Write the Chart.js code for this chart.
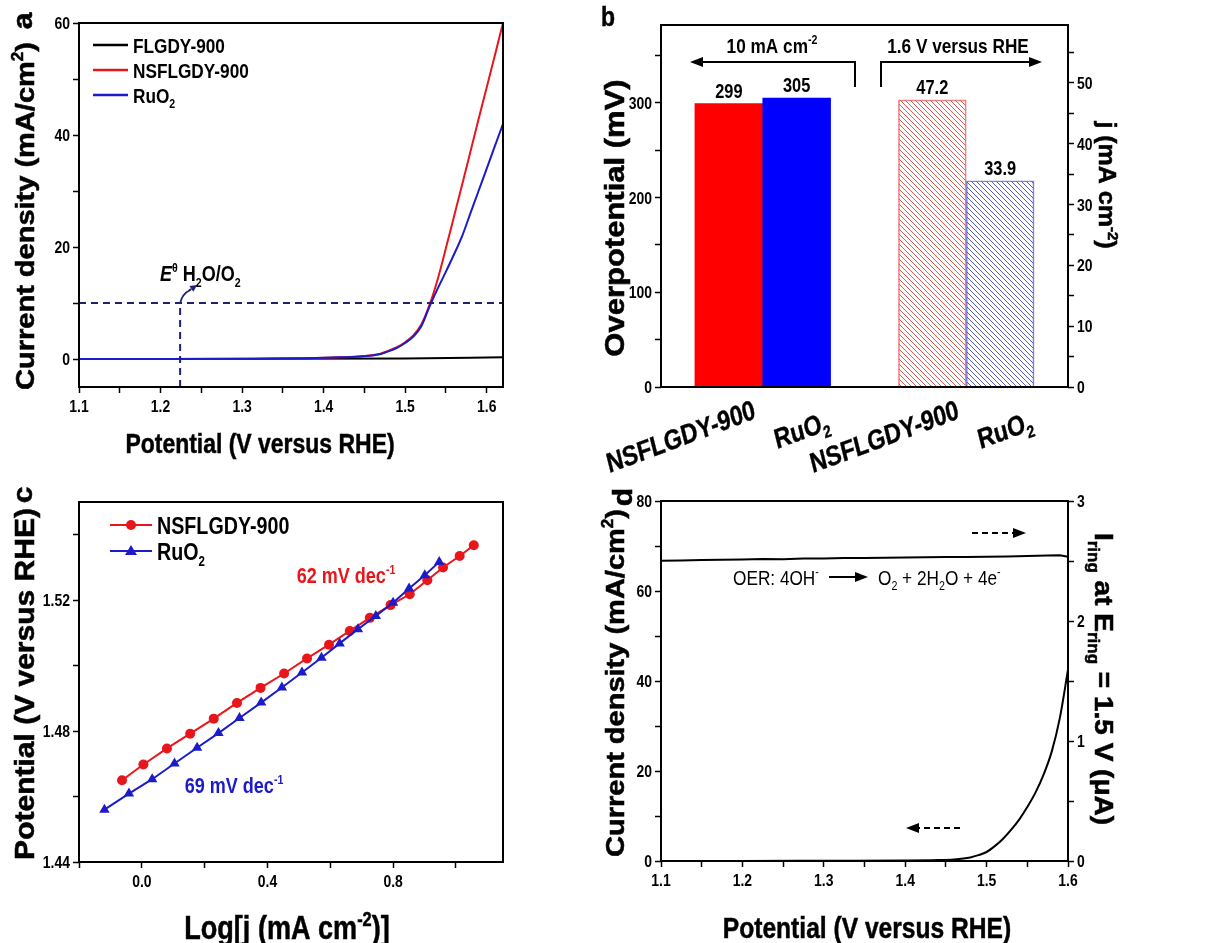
<!DOCTYPE html>
<html>
<head>
<meta charset="utf-8">
<script src="https://cdn.jsdelivr.net/npm/chart.js@4.4.1/dist/chart.umd.min.js"></script>
<style>
  html, body { margin: 0; padding: 0; background: #fff; }
  #wrap { position: relative; width: 1225px; height: 943px; overflow: hidden; }
  canvas { position: absolute; left: 0; top: 0; }
</style>
</head>
<body>
<div id="wrap">
  <canvas id="chartA" width="1225" height="943"></canvas>
  <canvas id="chartB" width="1225" height="943"></canvas>
  <canvas id="chartC" width="1225" height="943"></canvas>
  <canvas id="chartD" width="1225" height="943"></canvas>
</div>
<script>
// ---------- data ----------
// (a) LSV curves
const lsvPotential = [1.10, 1.20, 1.30, 1.38, 1.42, 1.45, 1.47, 1.48, 1.49, 1.50, 1.51, 1.52, 1.53, 1.54, 1.55, 1.56, 1.57, 1.58, 1.59, 1.60, 1.61, 1.62];
const lsvNSFLGDY = [0, 0.01, 0.05, 0.15, 0.3, 0.55, 0.95, 1.5, 2.1, 3.0, 4.2, 6.2, 9.7, 14.3, 19.8, 25.5, 31.2, 37.0, 42.8, 48.5, 54.2, 60.0];
const lsvRuO2 = [0, 0.01, 0.05, 0.15, 0.3, 0.5, 0.9, 1.4, 2.0, 2.85, 4.0, 5.9, 9.4, 12.6, 15.6, 18.7, 22.0, 26.0, 30.0, 34.0, 38.0, 42.0];
const lsvFLPotential = [1.10, 1.30, 1.50, 1.62];
const lsvFLGDY = [0, 0.02, 0.1, 0.3];
const refCurrent = 10;      // mA/cm2
const eqPotential = 1.224;  // E0 H2O/O2
const axisA = { xMin: 1.1, xMax: 1.62, yMin: -5, yMax: 60 };

// (b) bars
const barGroup = ['NSFLGDY-900', 'RuO_{2}'];
const overpotential = [299, 305];   // mV at 10 mA cm-2
const currentAt16V = [47.2, 33.9];  // mA cm-2 at 1.6 V

// (c) Tafel plots
const tafelLogJ_NS = [-0.063, 0.005, 0.080, 0.154, 0.229, 0.303, 0.378, 0.453, 0.526, 0.596, 0.662, 0.726, 0.792, 0.853, 0.909, 0.959, 1.012, 1.057];
const tafelE_NS = [1.465, 1.4698, 1.4747, 1.4792, 1.4838, 1.4886, 1.4932, 1.4976, 1.5022, 1.5064, 1.5106, 1.5146, 1.5185, 1.5218, 1.5261, 1.530, 1.5335, 1.5368];
const tafelLogJ_Ru = [-0.119, -0.041, 0.033, 0.104, 0.176, 0.244, 0.311, 0.380, 0.446, 0.510, 0.572, 0.630, 0.688, 0.745, 0.800, 0.851, 0.901, 0.947];
const tafelE_Ru = [1.456, 1.4609, 1.4653, 1.4701, 1.4749, 1.4794, 1.484, 1.4887, 1.4933, 1.4979, 1.5024, 1.5068, 1.5111, 1.5152, 1.5192, 1.5236, 1.5276, 1.5317];

// (d) RRDE
const rrdePotential = [1.10, 1.20, 1.30, 1.40, 1.44, 1.46, 1.48, 1.49, 1.50, 1.51, 1.52, 1.53, 1.54, 1.55, 1.56, 1.57, 1.58, 1.59, 1.60];
const diskCurrent = [0, 0.02, 0.05, 0.1, 0.2, 0.35, 0.8, 1.3, 2.0, 3.3, 4.9, 6.9, 9.2, 12.0, 15.2, 19.2, 24.3, 31.8, 42.5];
const ringPotential = [1.100, 1.125, 1.150, 1.175, 1.200, 1.225, 1.250, 1.275, 1.300, 1.325, 1.350, 1.375, 1.400, 1.425, 1.450, 1.475, 1.500, 1.525, 1.550, 1.575, 1.590, 1.600];
const ringCurrent = [2.502, 2.504, 2.508, 2.510, 2.512, 2.517, 2.514, 2.520, 2.521, 2.524, 2.526, 2.527, 2.530, 2.531, 2.533, 2.533, 2.536, 2.538, 2.541, 2.545, 2.548, 2.536];

// ---------- styles ----------
const FONT = "'Liberation Sans', Arial, sans-serif";
const SX = 0.82;   // the figure text is squeezed horizontally
const TICK = 17;
const RED = '#e8161b', BLUE = '#1b1bc8', NAVY = '#1f2270';
const VERT = -Math.PI / 2;
const TITLE_V = { rot: VERT, middle: true, sx: 0.92, stroke: 0.6 };

Chart.defaults.animation = false;
Chart.defaults.color = '#000';

const pts = (xs, ys) => xs.map((x, i) => ({ x, y: ys[i] }));
const onStep = (v, s) => Math.abs(v / s - Math.round(v / s)) < 1e-6;

function linAxis(pos, min, max, step, size) {
  return {
    type: 'linear', position: pos, min, max,
    border: { display: false },
    grid: { drawOnChartArea: false, drawTicks: true, tickLength: 6, tickWidth: 1.5, tickColor: '#000' },
    ticks: { stepSize: step, includeBounds: false, autoSkip: false, display: false },
    afterFit: s => { if (s.isHorizontal()) s.height = size; else s.width = size; }
  };
}

// small rich-text helper: ^{sup} _{sub} *{italic}
function parseRich(s) {
  const out = [];
  const re = /([\^_*])\{([^}]*)\}/g;
  let last = 0, m;
  while ((m = re.exec(s))) {
    if (m.index > last) out.push([s.slice(last, m.index), '']);
    out.push([m[2], m[1]]);
    last = re.lastIndex;
  }
  if (last < s.length) out.push([s.slice(last), '']);
  return out;
}

function drawRich(ctx, s, x, y, o) {
  const size = o.size, wt = o.weight || 'bold';
  const small = Math.round(size * 0.6);
  ctx.save();
  ctx.translate(x, y);
  ctx.scale(o.sx || SX, 1);
  if (o.rot) ctx.rotate(o.rot);
  ctx.fillStyle = ctx.strokeStyle = o.color || '#000';
  ctx.lineWidth = o.stroke || 0;
  ctx.textAlign = 'left';
  ctx.textBaseline = 'alphabetic';
  const parts = parseRich(s).map(([t, m]) => {
    const font = (m === '*' ? 'italic ' : '') + wt + ' ' + (m === '^' || m === '_' ? small : size) + 'px ' + FONT;
    ctx.font = font;
    return { t, m, font, w: ctx.measureText(t).width };
  });
  const total = parts.reduce((a, p) => a + p.w, 0);
  let cx = o.align === 'left' ? 0 : o.align === 'right' ? -total : -total / 2;
  const base = o.middle ? size * 0.36 : 0;
  parts.forEach(p => {
    ctx.font = p.font;
    const dy = p.m === '^' ? -size * 0.4 : p.m === '_' ? size * 0.25 : 0;
    ctx.fillText(p.t, cx, base + dy);
    if (o.stroke) ctx.strokeText(p.t, cx, base + dy);
    cx += p.w;
  });
  ctx.restore();
}

// tick labels drawn from the chart's own scales
function tickLabels(chart, id, labelStep, digits) {
  const s = chart.scales[id], ctx = chart.ctx;
  s.ticks.forEach(t => {
    if (!onStep(t.value, labelStep)) return;
    const p = s.getPixelForValue(t.value), txt = t.value.toFixed(digits);
    if (s.position === 'bottom') drawRich(ctx, txt, p, s.top + 19, { size: TICK, middle: true });
    else if (s.position === 'left') drawRich(ctx, txt, s.right - 9, p, { size: TICK, align: 'right', middle: true });
    else drawRich(ctx, txt, s.left + 9, p, { size: TICK, align: 'left', middle: true });
  });
}

function seg(ctx, x1, y1, x2, y2, color, width) {
  ctx.save();
  ctx.strokeStyle = color; ctx.lineWidth = width;
  ctx.beginPath(); ctx.moveTo(x1, y1); ctx.lineTo(x2, y2); ctx.stroke();
  ctx.restore();
}

function arrow(ctx, x1, y1, x2, y2, o = {}) {
  const head = o.head || 11, hw = o.hw || 4.5;
  const ang = Math.atan2(y2 - y1, x2 - x1);
  const bx = x2 - head * Math.cos(ang), by = y2 - head * Math.sin(ang);
  ctx.save();
  ctx.strokeStyle = ctx.fillStyle = o.color || '#000';
  ctx.lineWidth = o.width || 2;
  if (o.dash) ctx.setLineDash(o.dash);
  ctx.beginPath(); ctx.moveTo(x1, y1); ctx.lineTo(bx, by); ctx.stroke();
  ctx.setLineDash([]);
  ctx.beginPath();
  ctx.moveTo(x2, y2);
  ctx.lineTo(bx + hw * Math.sin(ang), by - hw * Math.cos(ang));
  ctx.lineTo(bx - hw * Math.sin(ang), by + hw * Math.cos(ang));
  ctx.closePath(); ctx.fill();
  ctx.restore();
}

function frame(chart) {
  const { ctx, chartArea: a } = chart;
  ctx.save();
  ctx.strokeStyle = '#000'; ctx.lineWidth = 2;
  ctx.strokeRect(a.left, a.top, a.right - a.left, a.bottom - a.top);
  ctx.restore();
}

function hatch(color) {
  const c = document.createElement('canvas');
  c.width = c.height = 5;
  const g = c.getContext('2d');
  g.strokeStyle = color; g.lineWidth = 1;
  g.beginPath();
  g.moveTo(0, 0); g.lineTo(5, 5);
  g.moveTo(-1, 4); g.lineTo(1, 6);
  g.moveTo(4, -1); g.lineTo(6, 1);
  g.stroke();
  return g.createPattern(c, 'repeat');
}

const lineStyle = { pointRadius: 0, borderWidth: 2, fill: false, cubicInterpolationMode: 'monotone' };
const noPlugins = { legend: { display: false }, tooltip: { enabled: false } };

// ---------- (a) ----------
new Chart(document.getElementById('chartA'), {
  type: 'line',
  data: {
    datasets: [
      { data: pts([axisA.xMin, axisA.xMax], [refCurrent, refCurrent]), borderColor: NAVY, borderDash: [7, 5], borderWidth: 2, pointRadius: 0 },
      { data: pts([eqPotential, eqPotential], [axisA.yMin, refCurrent]), borderColor: NAVY, borderDash: [7, 5], borderWidth: 2, pointRadius: 0 },
      { label: 'RuO2', data: pts(lsvPotential, lsvRuO2), borderColor: BLUE, ...lineStyle },
      { label: 'NSFLGDY-900', data: pts(lsvPotential, lsvNSFLGDY), borderColor: RED, ...lineStyle },
      { label: 'FLGDY-900', data: pts(lsvFLPotential, lsvFLGDY), borderColor: '#000', ...lineStyle }
    ]
  },
  options: {
    responsive: false,
    layout: { padding: { left: 0, top: 23, right: 722, bottom: 516 } },
    plugins: noPlugins,
    scales: {
      x: linAxis('bottom', axisA.xMin, axisA.xMax, 0.05, 40),
      y: linAxis('left', axisA.yMin, axisA.yMax, 10, 79)
    }
  },
  plugins: [{
    id: 'overlayA',
    afterDraw(chart) {
      const ctx = chart.ctx, xs = chart.scales.x, ys = chart.scales.y;
      frame(chart);
      tickLabels(chart, 'x', 0.1, 1);
      tickLabels(chart, 'y', 20, 0);
      drawRich(ctx, 'a', 22, 21, { size: 30, ...TITLE_V });
      drawRich(ctx, 'Current density (mA/cm^{2})', 24, 216, { size: 29, ...TITLE_V });
      drawRich(ctx, 'Potential (V versus RHE)', 260, 443, { size: 28, middle: true, stroke: 0.5 });
      [['FLGDY-900', '#000'], ['NSFLGDY-900', RED], ['RuO_{2}', BLUE]].forEach(([t, c], i) => {
        const yy = 45 + i * 25;
        seg(ctx, 93, yy, 128, yy, c, 2.5);
        drawRich(ctx, t, 133, yy, { size: 21, align: 'left', middle: true });
      });
      const px = xs.getPixelForValue(eqPotential), py = ys.getPixelForValue(refCurrent);
      ctx.save();
      ctx.strokeStyle = NAVY; ctx.lineWidth = 1.8;
      ctx.beginPath(); ctx.moveTo(px, py); ctx.quadraticCurveTo(px + 2, py - 9, px + 10, py - 13); ctx.stroke();
      ctx.restore();
      arrow(ctx, px + 9, py - 12.5, px + 17, py - 18, { color: NAVY, head: 7, hw: 3.5, width: 1.8 });
      drawRich(ctx, '*{E}^{θ} H_{2}O/O_{2}', 160, 281, { size: 22, align: 'left' });
    }
  }]
});

// ---------- (b) ----------
const slots = ['', ...barGroup, '', ...barGroup, ''];
new Chart(document.getElementById('chartB'), {
  type: 'bar',
  data: {
    labels: slots,
    datasets: [
      {
        data: [null, ...overpotential, null, null, null, null], yAxisID: 'y',
        backgroundColor: ['#f00', '#f00', '#0000ff', '#f00', '#f00', '#f00', '#f00'],
        borderWidth: 0, grouped: false, barPercentage: 1, categoryPercentage: 1
      },
      {
        data: [null, null, null, null, ...currentAt16V, null], yAxisID: 'y2',
        backgroundColor: [null, null, null, null, hatch('rgba(226,70,70,0.9)'), hatch('rgba(70,70,200,0.9)'), null],
        borderColor: [null, null, null, null, 'rgba(235,120,120,0.9)', 'rgba(120,120,215,0.9)', null],
        borderWidth: 1, grouped: false, barPercentage: 1, categoryPercentage: 1
      }
    ]
  },
  options: {
    responsive: false,
    layout: { padding: { left: 601, top: 25, right: 97, bottom: 516 } },
    plugins: noPlugins,
    scales: {
      x: {
        type: 'category', offset: false,
        border: { display: false }, grid: { display: false }, ticks: { display: false },
        afterFit: s => { s.height = 40; }
      },
      y: linAxis('left', 0, 382, 50, 60),
      y2: linAxis('right', 0, 59.5, 5, 60)
    }
  },
  plugins: [{
    id: 'overlayB',
    afterDraw(chart) {
      const ctx = chart.ctx, xs = chart.scales.x;
      frame(chart);
      tickLabels(chart, 'y', 100, 0);
      tickLabels(chart, 'y2', 10, 0);
      drawRich(ctx, 'b', 608, 16, { size: 28, middle: true, stroke: 0.5 });
      drawRich(ctx, 'Overpotential (mV)', 614, 218, { size: 31, ...TITLE_V });
      drawRich(ctx, 'j (mA cm^{-2})', 1107, 185, { size: 25, ...TITLE_V, rot: Math.PI / 2 });
      drawRich(ctx, '10 mA cm^{-2}', 772, 45, { size: 21, middle: true });
      drawRich(ctx, '1.6 V versus RHE', 958, 45, { size: 21, middle: true });
      seg(ctx, 855, 87, 855, 61, '#000', 2);
      arrow(ctx, 856, 62, 690, 62, { head: 13, hw: 5 });
      seg(ctx, 881, 87, 881, 61, '#000', 2);
      arrow(ctx, 880, 62, 1042, 62, { head: 13, hw: 5 });
      // value labels on top of the bars
      [0, 1].forEach(d => {
        const meta = chart.getDatasetMeta(d);
        chart.data.datasets[d].data.forEach((v, i) => {
          if (v === null) return;
          const bar = meta.data[i];
          drawRich(ctx, String(v), bar.x, bar.y - 6, { size: 20 });
        });
      });
      // tilted category labels
      slots.forEach((t, i) => {
        if (!t) return;
        const px = xs.getPixelForValue(i);
        const long = t.length > 8;
        drawRich(ctx, t, px + (long ? 28 : 34), long ? 418 : 429, { size: 28, align: 'right', rot: -17 * Math.PI / 180, stroke: 0.4 });
      });
    }
  }]
});

// ---------- (c) ----------
new Chart(document.getElementById('chartC'), {
  type: 'line',
  data: {
    datasets: [
      { data: pts(tafelLogJ_Ru, tafelE_Ru), borderColor: BLUE, backgroundColor: BLUE, borderWidth: 2, pointStyle: 'triangle', pointRadius: 6, pointBorderWidth: 0, fill: false },
      { data: pts(tafelLogJ_NS, tafelE_NS), borderColor: RED, backgroundColor: RED, borderWidth: 2, pointStyle: 'circle', pointRadius: 5, pointBorderWidth: 0, fill: false }
    ]
  },
  options: {
    responsive: false,
    layout: { padding: { left: 0, top: 502, right: 722, bottom: 41 } },
    plugins: noPlugins,
    scales: {
      x: linAxis('bottom', -0.2, 1.15, 0.2, 40),
      y: linAxis('left', 1.44, 1.55, 0.02, 79)
    }
  },
  plugins: [{
    id: 'overlayC',
    afterDraw(chart) {
      const ctx = chart.ctx;
      frame(chart);
      tickLabels(chart, 'x', 0.4, 1);
      tickLabels(chart, 'y', 0.04, 2);
      drawRich(ctx, 'c', 22, 495, { size: 30, ...TITLE_V });
      drawRich(ctx, 'Potential (V versus RHE)', 24, 684, { size: 30, ...TITLE_V });
      drawRich(ctx, 'Log[j (mA cm^{-2})]', 287, 927, { size: 33, middle: true, stroke: 0.5 });
      // legend
      seg(ctx, 110, 525, 152, 525, RED, 2);
      ctx.save(); ctx.fillStyle = RED; ctx.beginPath(); ctx.arc(131, 525, 5, 0, Math.PI * 2); ctx.fill(); ctx.restore();
      drawRich(ctx, 'NSFLGDY-900', 157, 525, { size: 24, align: 'left', middle: true });
      seg(ctx, 110, 551, 152, 551, BLUE, 2);
      ctx.save(); ctx.fillStyle = BLUE; ctx.beginPath();
      ctx.moveTo(131, 545); ctx.lineTo(137, 555); ctx.lineTo(125, 555); ctx.closePath(); ctx.fill(); ctx.restore();
      drawRich(ctx, 'RuO_{2}', 157, 551, { size: 24, align: 'left', middle: true });
      drawRich(ctx, '62 mV dec^{-1}', 346, 575, { size: 22, color: RED, middle: true });
      drawRich(ctx, '69 mV dec^{-1}', 234, 785, { size: 22, color: BLUE, middle: true });
    }
  }]
});

// ---------- (d) ----------
new Chart(document.getElementById('chartD'), {
  type: 'line',
  data: {
    datasets: [
      { data: pts(rrdePotential, diskCurrent), borderColor: '#000', yAxisID: 'y', ...lineStyle },
      { data: pts(ringPotential, ringCurrent), borderColor: '#000', yAxisID: 'y2', pointRadius: 0, borderWidth: 2, fill: false }
    ]
  },
  options: {
    responsive: false,
    layout: { padding: { left: 601, top: 501, right: 97, bottom: 42 } },
    plugins: noPlugins,
    scales: {
      x: linAxis('bottom', 1.1, 1.6, 0.05, 40),
      y: linAxis('left', 0, 80, 10, 60),
      y2: linAxis('right', 0, 3, 0.5, 60)
    }
  },
  plugins: [{
    id: 'overlayD',
    afterDraw(chart) {
      const ctx = chart.ctx;
      frame(chart);
      tickLabels(chart, 'x', 0.1, 1);
      tickLabels(chart, 'y', 20, 0);
      tickLabels(chart, 'y2', 1, 0);
      drawRich(ctx, 'd', 622, 497, { size: 30, ...TITLE_V });
      drawRich(ctx, 'Current density (mA/cm^{2})', 614, 683, { size: 29, ...TITLE_V });
      drawRich(ctx, 'Potential (V versus RHE)', 867, 927, { size: 30, middle: true, stroke: 0.5 });
      drawRich(ctx, 'I_{ring} at E_{ring} = 1.5 V (μA)', 1104, 679, { size: 28, ...TITLE_V, rot: Math.PI / 2 });
      drawRich(ctx, 'OER: 4OH^{-}', 733, 577, { size: 21, weight: 'normal', align: 'left', middle: true });
      arrow(ctx, 829, 577, 868, 577, { head: 13, hw: 5 });
      drawRich(ctx, 'O_{2} + 2H_{2}O + 4e^{-}', 878, 577, { size: 21, weight: 'normal', align: 'left', middle: true });
      arrow(ctx, 972, 533, 1026, 533, { dash: [6, 4], head: 13, hw: 5 });
      arrow(ctx, 960, 828, 906, 828, { dash: [6, 4], head: 13, hw: 5 });
    }
  }]
});
</script>
</body>
</html>
